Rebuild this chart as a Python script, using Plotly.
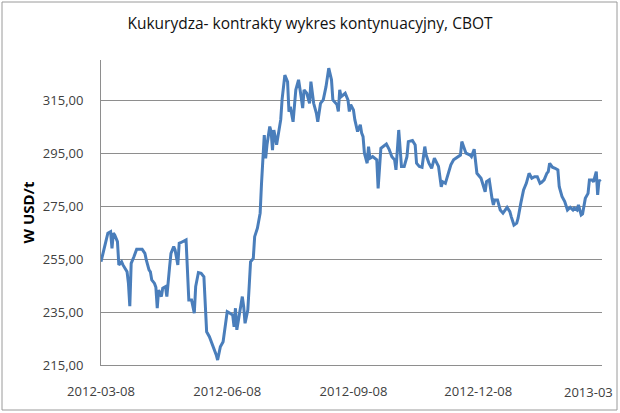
import plotly.graph_objects as go

dates = ["2012-03-08","2012-03-13","2012-03-15","2012-03-16","2012-03-17","2012-03-18","2012-03-20","2012-03-21","2012-03-23","2012-03-24","2012-03-27","2012-03-28","2012-03-29","2012-03-30",
"2012-04-01","2012-04-03","2012-04-07","2012-04-09","2012-04-10","2012-04-12","2012-04-13","2012-04-14","2012-04-16","2012-04-17","2012-04-18","2012-04-19","2012-04-21","2012-04-22","2012-04-24","2012-04-25","2012-04-27","2012-04-28","2012-04-30",
"2012-05-01","2012-05-03","2012-05-04","2012-05-05","2012-05-07","2012-05-09","2012-05-11","2012-05-13","2012-05-15","2012-05-16","2012-05-18","2012-05-20","2012-05-22","2012-05-23","2012-05-24","2012-05-26","2012-05-29","2012-05-31",
"2012-06-01","2012-06-03","2012-06-05","2012-06-07","2012-06-08","2012-06-10","2012-06-12","2012-06-13","2012-06-14","2012-06-15","2012-06-16","2012-06-17","2012-06-19","2012-06-20","2012-06-21","2012-06-23","2012-06-24","2012-06-25","2012-06-27","2012-06-28","2012-06-30",
"2012-07-02","2012-07-03","2012-07-04","2012-07-05","2012-07-06","2012-07-07","2012-07-09","2012-07-10","2012-07-11","2012-07-12","2012-07-14","2012-07-16","2012-07-17","2012-07-18","2012-07-20","2012-07-22","2012-07-23","2012-07-24","2012-07-26","2012-07-28","2012-07-30",
"2012-08-01","2012-08-02","2012-08-03","2012-08-05","2012-08-07","2012-08-08","2012-08-10","2012-08-12","2012-08-13","2012-08-15","2012-08-17","2012-08-19","2012-08-21","2012-08-23","2012-08-24","2012-08-27","2012-08-28","2012-08-29","2012-08-30",
"2012-09-01","2012-09-02","2012-09-04","2012-09-05","2012-09-06","2012-09-08","2012-09-09","2012-09-11","2012-09-13","2012-09-14","2012-09-15","2012-09-16","2012-09-18","2012-09-19","2012-09-20","2012-09-22","2012-09-25","2012-09-26","2012-09-28","2012-09-30",
"2012-10-02","2012-10-04","2012-10-06","2012-10-08","2012-10-09","2012-10-11","2012-10-12","2012-10-13","2012-10-15","2012-10-17","2012-10-18","2012-10-21","2012-10-23","2012-10-24","2012-10-26","2012-10-28","2012-10-30","2012-10-31",
"2012-11-02","2012-11-04","2012-11-06","2012-11-09","2012-11-11","2012-11-12","2012-11-14","2012-11-16","2012-11-18","2012-11-20","2012-11-22","2012-11-24","2012-11-25","2012-11-26","2012-11-28","2012-11-29",
"2012-12-02","2012-12-03","2012-12-05","2012-12-06","2012-12-07","2012-12-10","2012-12-11","2012-12-13","2012-12-14","2012-12-16","2012-12-18","2012-12-19","2012-12-20","2012-12-22","2012-12-24","2012-12-26","2012-12-29","2012-12-31",
"2013-01-01","2013-01-03","2013-01-05","2013-01-06","2013-01-08","2013-01-10","2013-01-12","2013-01-14","2013-01-16","2013-01-18","2013-01-20","2013-01-22","2013-01-23","2013-01-25","2013-01-27","2013-01-28","2013-01-29","2013-01-31",
"2013-02-02","2013-02-04","2013-02-05","2013-02-07","2013-02-09","2013-02-11","2013-02-13","2013-02-15","2013-02-16","2013-02-18","2013-02-19","2013-02-21","2013-02-22","2013-02-24","2013-02-26","2013-02-27",
"2013-03-01","2013-03-02","2013-03-04","2013-03-05","2013-03-06","2013-03-07"]

prices = [254.1, 264.9, 265.5, 259.2, 264.9, 264.2, 261.7, 252.9, 254.1, 252.9,
250.3, 245.9, 237.3, 253.5, 256.0, 258.8, 258.8, 257.3, 254.8, 251.0,
250.3, 247.2, 245.9, 244.4, 236.5, 243.4, 240.9, 244.1, 244.7, 240.9,
252.2, 257.3, 259.8, 258.6, 252.9, 261.1, 261.3, 261.7, 262.4, 239.6,
239.6, 234.6, 244.7, 250.0, 249.7, 248.4, 237.1, 227.6, 225.7, 221.9,
218.8, 216.9, 221.9, 223.8, 231.4, 235.2, 234.6, 233.9, 229.5, 236.5,
228.3, 230.8, 234.6, 240.9, 237.1, 230.8, 235.8, 244.7, 254.1, 255.4,
263.6, 266.8, 272.5, 283.8, 292.7, 302.1, 293.3, 298.4, 305.3, 303.4,
296.4, 304.0, 298.4, 306.0, 307.9, 315.6, 324.8, 322.2, 310.9, 312.8,
307.1, 319.2, 323.0, 316.1, 312.3, 319.2, 317.9, 314.1, 322.3, 314.1,
310.3, 307.1, 314.1, 315.4, 320.4, 327.4, 323.0, 315.4, 313.6, 311.0,
319.2, 316.6, 317.3, 317.9, 315.4, 311.0, 313.6, 311.6, 307.9, 303.4,
306.0, 302.8, 301.5, 295.2, 291.4, 297.7, 293.3, 293.9, 292.7, 281.9,
297.1, 298.0, 298.7, 296.7, 293.9, 292.7, 288.9, 304.0, 295.2, 290.2,
290.2, 293.9, 299.6, 300.0, 298.3, 291.4, 290.2, 289.9, 297.7, 294.5,
291.4, 289.5, 293.3, 290.2, 282.5, 284.4, 283.8, 287.0, 290.8, 292.7,
293.3, 293.9, 294.5, 299.6, 296.4, 295.2, 294.5, 293.9, 296.7, 292.7,
287.6, 285.7, 283.8, 280.6, 284.4, 285.1, 278.1, 275.6, 277.5, 277.5,
273.7, 272.5, 274.7, 273.1, 271.2, 268.0, 268.7, 270.6, 276.3, 281.3,
283.8, 287.6, 285.7, 286.3, 286.3, 283.8, 284.1, 285.1, 287.6, 288.2,
291.4, 289.9, 289.5, 288.9, 282.5, 278.8, 276.9, 273.7, 274.7, 273.7,
274.4, 273.7, 275.6, 271.8, 272.2, 278.1, 280.0, 285.1, 285.1, 284.4,
288.2, 279.4, 285.1, 284.4]

x_ticks = ["2012-03-08", "2012-06-08", "2012-09-08", "2012-12-08", "2013-03-08"]
x_tick_labels = ["2012-03-08", "2012-06-08", "2012-09-08", "2012-12-08", ""]
last_tick_label = "2013-03"
y_ticks = [215, 235, 255, 275, 295, 315]
y_tick_labels = ["215,00", "235,00", "255,00", "275,00", "295,00", "315,00"]

title_text = "Kukurydza- kontrakty wykres kontynuacyjny, CBOT"
y_title = "W USD/t"

n = min(len(dates), len(prices))

fig = go.Figure()
fig.add_trace(go.Scatter(
    x=dates[:n], y=prices[:n], mode="lines",
    line=dict(color="#4a7ebb", width=3),
    showlegend=False, hoverinfo="skip"))

GRID = "#8e8e8e"
FONT = "Open Sans"
TICKFONT = dict(family=FONT, size=13, color="#404040")

fig.update_layout(
    width=620, height=413,
    margin=dict(l=101, r=18, t=60, b=48, autoexpand=False),
    paper_bgcolor="white", plot_bgcolor="white",
    title=dict(text=title_text, x=0.5, xanchor="center", y=1 - 24/413, yanchor="middle",
               font=dict(family=FONT, size=15.5, color="#111111")),
    xaxis=dict(
        type="date", range=["2012-03-08", "2013-03-08 04:00"],
        tickvals=x_ticks, ticktext=x_tick_labels, automargin=False,
        showgrid=False, showline=True, linecolor=GRID, linewidth=1,
        ticks="", ticklabelstandoff=14,
        tickfont=TICKFONT,
        zeroline=False),
    yaxis=dict(
        range=[215, 330.5], tickvals=y_ticks, ticktext=y_tick_labels, automargin=False,
        showgrid=True, gridcolor=GRID, gridwidth=1,
        showline=True, linecolor=GRID, linewidth=1,
        ticks="", ticklabelstandoff=14,
        tickfont=TICKFONT,
        title=dict(text=y_title, standoff=4,
                   font=dict(family=FONT, size=15, color="#000000", weight="bold")),
        zeroline=False),
)

# last date label, shown truncated at the chart border as in the original
fig.add_annotation(text=last_tick_label, xref="paper", yref="paper",
                   x=(615 - 101) / 501, y=(365 - 392) / 305,
                   xanchor="right", yanchor="middle", showarrow=False,
                   font=TICKFONT)

# chart border
fig.add_shape(type="rect", xref="paper", yref="paper",
              x0=(2 - 101) / 501, x1=(617 - 101) / 501,
              y0=(365 - 410) / 305, y1=(365 - 2) / 305,
              line=dict(color="#9a9a9a", width=1), fillcolor="rgba(0,0,0,0)", layer="above")

fig.write_html("out.html", config={"displayModeBar": False},
               post_script="document.body.style.margin='0';")
